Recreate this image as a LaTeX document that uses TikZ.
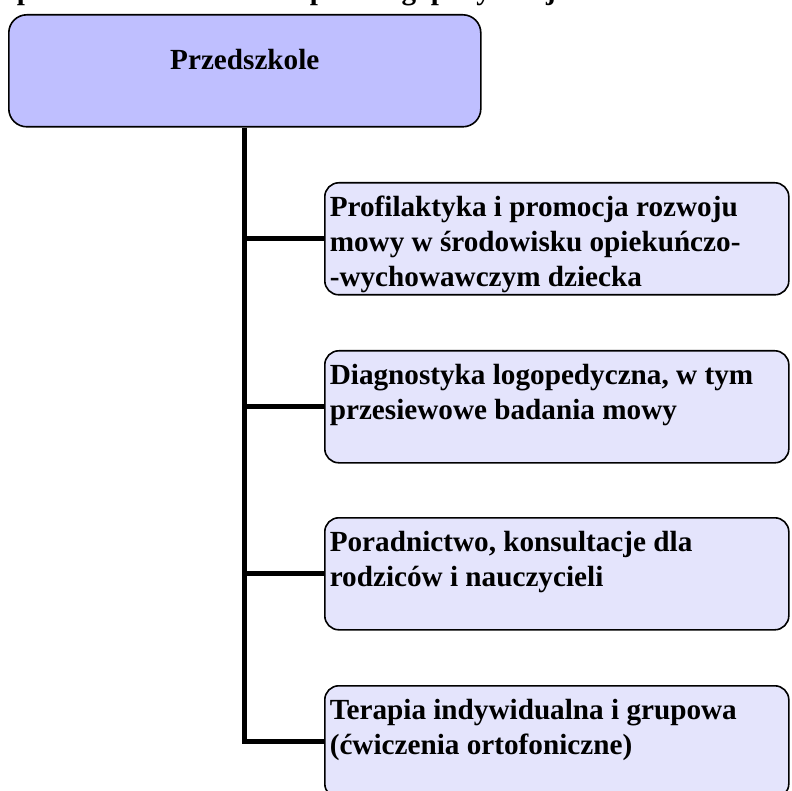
\documentclass[tikz,border=0pt]{standalone}
\usepackage{fontspec}
\setmainfont{Liberation Serif}
\definecolor{rootfill}{RGB}{191,191,255}
\definecolor{childfill}{RGB}{228,228,252}
\newcommand{\boxtext}[1]{\parbox[t][112pt][t]{454pt}{\raggedright\baselineskip=35pt\rule{0pt}{33.5pt}#1}}
\begin{document}
\begin{tikzpicture}[x=1pt,y=-1pt,
  every node/.style={font=\bfseries\fontsize{29.2}{35}\selectfont},
  rootbox/.style={draw=black, line width=1.6pt, fill=rootfill, rounded corners=18pt,
    minimum width=472pt, minimum height=112pt, anchor=north west, inner sep=0pt,
    text height=19pt, text depth=21pt},
  childbox/.style={draw=black, line width=1.6pt, fill=childfill, rounded corners=14pt,
    anchor=north west, inner xsep=5pt, inner ysep=0pt},
  trunk/.style={line width=5pt, draw=black, line join=miter}]
\useasboundingbox (0,0) rectangle (792,791);
\clip (0,0) rectangle (792,791);

% heading line running off the top edge
\node[anchor=base west, inner sep=0pt] (title) at (-6,-0.5) {Opis działań w zakresie opieki logopedycznej};

% root
\node[rootbox] (root) at (8,14) {Przedszkole};

% branches
\node[childbox] (b1) at (324,182) {\boxtext{Profilaktyka i promocja rozwoju\\mowy w środowisku opiekuńczo-\\-wychowawczym dziecka}};
\node[childbox] (b2) at (324,350) {\boxtext{Diagnostyka logopedyczna, w tym\\przesiewowe badania mowy}};
\node[childbox] (b3) at (324,517) {\boxtext{Poradnictwo, konsultacje dla\\rodziców i nauczycieli}};
\node[childbox] (b4) at (324,685) {\boxtext{Terapia indywidualna i grupowa\\(ćwiczenia ortofoniczne)}};

% connectors
\draw[trunk] (root.south) -- (root.south |- b4.west) -- (b4.west);
\draw[trunk] (root.south |- b1.west) -- (b1.west);
\draw[trunk] (root.south |- b2.west) -- (b2.west);
\draw[trunk] (root.south |- b3.west) -- (b3.west);
\end{tikzpicture}
\end{document}
